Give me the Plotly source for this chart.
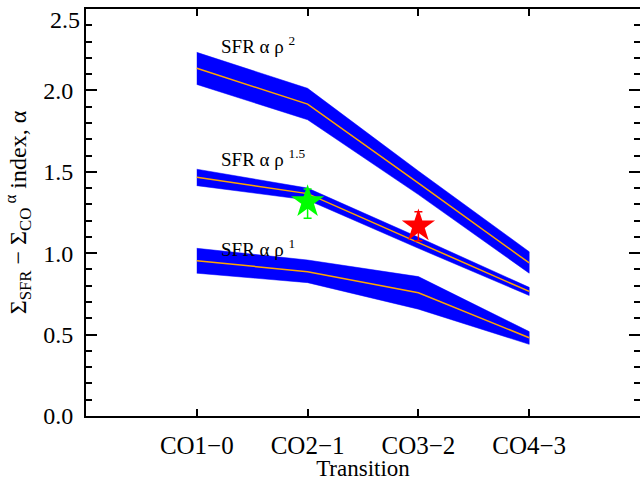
import plotly.graph_objects as go

transitions = ["CO1\u22120", "CO2\u22121", "CO3\u22122", "CO4\u22123"]
xpos = [1, 2, 3, 4]

# SFR ~ rho^2
rho2_mid = [2.136, 1.916, 1.43, 0.94]
rho2_hi = [2.234, 2.013, 1.505, 1.009]
rho2_lo = [2.037, 1.82, 1.36, 0.877]
# SFR ~ rho^1.5
rho15_mid = [1.467, 1.366, 1.065, 0.765]
rho15_hi = [1.516, 1.40, 1.098, 0.79]
rho15_lo = [1.415, 1.327, 1.03, 0.74]
# SFR ~ rho^1
rho1_mid = [0.954, 0.886, 0.757, 0.48]
rho1_hi = [1.03, 0.958, 0.856, 0.518]
rho1_lo = [0.877, 0.819, 0.656, 0.44]

# observed points
obs_x = [2, 3]
obs_y = [1.316, 1.167]
obs_err_up = [0.078, 0.088]
obs_err_dn = [0.102, 0.09]
obs_colors = ["#00FF00", "#FF0000"]

band_labels = ["SFR \u03b1 \u03c1 <sup>2</sup>", "SFR \u03b1 \u03c1 <sup>1.5</sup>", "SFR \u03b1 \u03c1 <sup>1</sup>"]
label_y = [2.28, 1.585, 1.03]

y_ticks = [0, 0.5, 1.0, 1.5, 2.0, 2.5]
y_ticktext = ["0.0", "0.5", "1.0", "1.5", "2.0", "2.5"]

FONT = "Liberation Serif, Times New Roman, serif"

fig = go.Figure()

for mid, hi, lo in [(rho2_mid, rho2_hi, rho2_lo), (rho15_mid, rho15_hi, rho15_lo), (rho1_mid, rho1_hi, rho1_lo)]:
    fig.add_trace(go.Scatter(x=xpos + xpos[::-1], y=hi + lo[::-1], fill="toself",
                             fillcolor="#0000FF", line=dict(color="#0000FF", width=0.5),
                             mode="lines", hoverinfo="skip", showlegend=False))
    fig.add_trace(go.Scatter(x=xpos, y=mid, mode="lines",
                             line=dict(color="#FFA500", width=1.5), showlegend=False))

for xv, yv, eu, ed, c in zip(obs_x, obs_y, obs_err_up, obs_err_dn, obs_colors):
    fig.add_trace(go.Scatter(x=[xv], y=[yv], mode="markers",
                             marker=dict(symbol="star", size=25, color=c, line=dict(width=0)),
                             error_y=dict(type="data", array=[eu], arrayminus=[ed], color=c,
                                          thickness=1.5, width=4),
                             showlegend=False))

for txt, yv in zip(band_labels, label_y):
    fig.add_annotation(x=1.2, y=yv, xref="x", yref="y", text=txt, showarrow=False,
                       xanchor="left", yanchor="middle",
                       font=dict(family=FONT, size=19, color="black"))

# top tick label placed just below the frame edge so it is not clipped
fig.add_annotation(x=0, y=y_ticks[-1], xref="paper", yref="y", text=y_ticktext[-1],
                   showarrow=False, xanchor="right", yanchor="top", xshift=-4, yshift=4,
                   font=dict(family=FONT, size=24, color="black"))

fig.update_layout(
    width=640, height=481,
    margin=dict(l=86, r=0, t=9, b=65),
    plot_bgcolor="white", paper_bgcolor="white",
    font=dict(family=FONT, size=24, color="black"),
)
fig.update_xaxes(
    range=[0, 5], tickmode="array", tickvals=xpos, ticktext=transitions,
    ticks="inside", ticklen=7, tickwidth=1.5, tickcolor="black",
    showline=True, linecolor="black", linewidth=2, mirror="ticks",
    showgrid=False, zeroline=False, automargin=False,
    ticklabelstandoff=6,
    title=dict(text="Transition", font=dict(size=23), standoff=0),
    tickfont=dict(size=25),
)
fig.update_yaxes(
    range=[-0.0005, 2.5005], tickmode="array", tickvals=y_ticks,
    ticktext=y_ticktext[:-1] + [""],
    ticks="inside", ticklen=11, tickwidth=1.5, tickcolor="black",
    minor=dict(tickvals=[i / 10 for i in range(26)], ticks="inside", ticklen=6, tickwidth=1.5, tickcolor="black"),
    showline=True, linecolor="black", linewidth=2, mirror="ticks",
    showgrid=False, zeroline=False, automargin=False,
    ticklabelstandoff=6,
    title=dict(text="\u03a3<sub>SFR</sub> \u2212 \u03a3<sub>CO</sub><sup> \u03b1</sup> index, \u03b1",
               font=dict(size=24), standoff=10),
    tickfont=dict(size=24),
)

fig.write_html("out.html", config={"displayModeBar": False},
               post_script="document.body.style.margin='0';document.body.style.padding='0';")
